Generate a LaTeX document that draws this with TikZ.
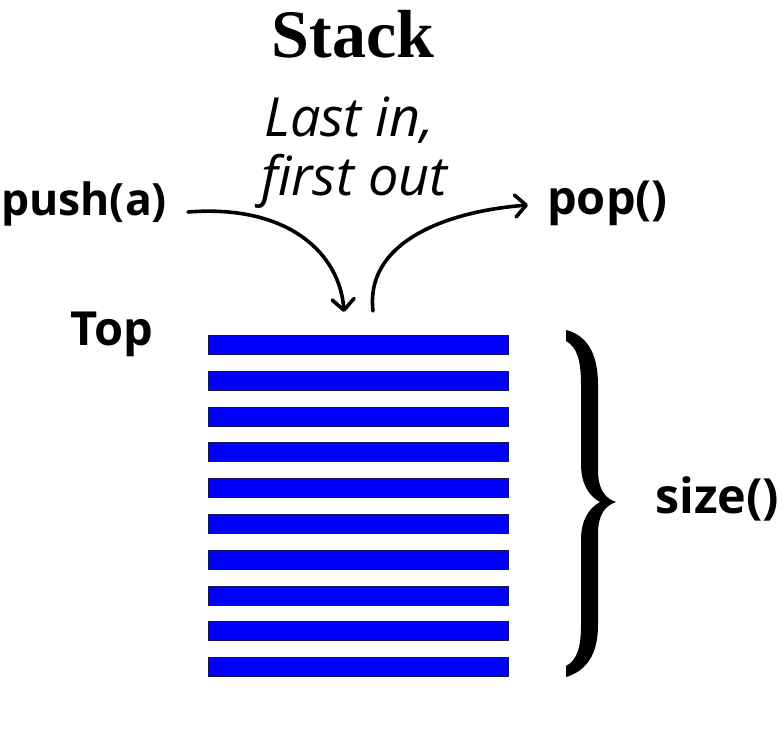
\documentclass[tikz,border=0pt]{standalone}
\usepackage{fontspec}
\setmainfont{Open Sans}
\newfontfamily\titlefont{Liberation Serif}
\usetikzlibrary{arrows.meta}
\definecolor{barblue}{RGB}{0,0,255}
\definecolor{barline}{RGB}{20,20,90}
\tikzset{
  lbl/.style={anchor=base west, inner sep=0pt, font=\bfseries\fontsize{47}{56}\selectfont},
  note/.style={anchor=base west, inner sep=0pt, font=\itshape\fontsize{54}{62}\selectfont},
  stackbar/.style={draw=barline, line width=1pt, fill=barblue, minimum width=300pt, minimum height=19pt, inner sep=0pt, anchor=north west},
  curvearrow/.style={line width=3.6pt, line cap=round, -{Straight Barb[length=11pt,width=22pt,round]}},
}
\begin{document}
\begin{tikzpicture}[x=1pt,y=-1pt]
\useasboundingbox[fill=white] (0,0) rectangle (784,748);
\node[anchor=base, inner sep=0pt, font=\titlefont\bfseries\fontsize{68}{70}\selectfont] (title) at (353,57) {Stack};
\node[note] (lastin) at (264,136) {Last in,};
\node[note] (firstout) at (261,195) {first out};
\node[lbl, font=\bfseries\fontsize{44.5}{54}\selectfont] (push) at (1,215) {push(a)};
\node[lbl] (pop) at (547,214) {pop()};
\node[lbl] (top) at (70,345) {Top};
\node[lbl, font=\bfseries\fontsize{48.5}{56}\selectfont] (size) at (655,513) {size()};
\foreach \i in {0,...,9} {
  \node[stackbar] (bar\i) at (208,{335+35.8*\i}) {};
}
\coordinate (pushS) at (188,212);
\coordinate (pushE) at (344,312);
\coordinate (popS) at (373,311);
\coordinate (popE) at (528,205);
\draw[curvearrow] (pushS) .. controls (290,204) and (340,255) .. (pushE);
\draw[curvearrow] (popS) .. controls (365,245) and (440,212) .. (popE);
\fill[black] (566,330) .. controls (586,335) and (598,352) .. (598,385)
  -- (598,470)
  .. controls (598,488) and (604,498) .. (616,502)
  .. controls (604,506) and (598,516) .. (598,534)
  -- (598,625)
  .. controls (598,655) and (586,671) .. (566,677)
  -- (566,666)
  .. controls (577,660) and (581,648) .. (581,625)
  -- (581,540)
  .. controls (581,520) and (589,508) .. (600,502)
  .. controls (589,496) and (581,484) .. (581,464)
  -- (581,385)
  .. controls (581,360) and (577,347) .. (566,341)
  -- cycle;
\end{tikzpicture}
\end{document}
